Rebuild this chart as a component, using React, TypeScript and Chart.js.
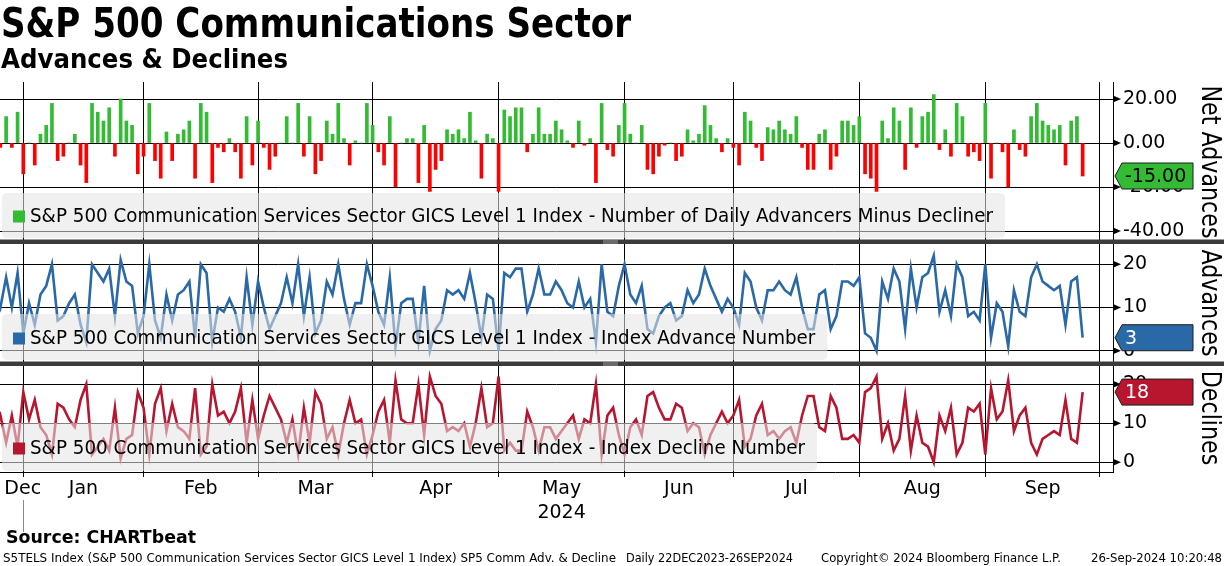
import React, { useEffect, useLayoutEffect, useRef } from 'react';
import { Chart, registerables } from 'chart.js';

Chart.register(...registerables);

const FONT = '"DejaVu Sans", Verdana, sans-serif';

// ---- DATA (trading days 22-Dec-2023 .. 26-Sep-2024, index 0 = 22 Dec) ----
const netAdvances = [
  6, -2, 12, -2, 14, -14, 0, -10, 4, 8,
  18, -8, -6, 0, 4, -10, -18, 18, 14, 10,
  16, -6, 20, 10, 8, -14, -6, 18, -8, -16,
  5, -8, 4, 6, 10, -16, 18, 14, -18, -2,
  -4, 2, -4, -16, 12, -10, 10, -2, -12, -6,
  0, 12, 0, 18, -6, 12, -14, -8, 10, 4,
  18, 2, -10, 1, 0, 18, 8, -4, -10, 12,
  -20, 0, 2, 2, -18, 8, -22, -12, -8, 6,
  4, 6, 2, 14, 1, -16, 4, 2, -22, 15,
  12, 16, 16, -4, 4, 16, 4, 4, 10, 6,
  1, -2, 10, -1, 2, -18, 18, -3, -6, 8,
  18, 4, 0, 8, -12, -14, -6, -1, 0, -8,
  -6, 6, 1, 4, 17, 8, 2, -4, 2, -2,
  -10, 14, 10, -2, -8, 7, 6, 10, 6, 4,
  12, -2, -12, -12, 4, 6, -12, -6, 10, 10,
  8, 12, -14, -16, -22, 10, 2, 16, 10, -12,
  16, -2, 12, 14, 22, -3, 6, -6, 18, 12,
  -6, -4, -8, 18, -16, 0, -4, -20, 6, -3,
  -6, 12, 18, 10, 8, 6, 8, -10, 10, 12,
  -15,
];

const advances = [
  14, 10, 17, 10, 18, 4, 11, 6, 13, 15,
  20, 7, 8, 11, 13, 6, 2, 20, 18, 16,
  19, 8, 21, 16, 15, 4, 8, 20, 7, 3,
  13, 7, 13, 14, 16, 3, 20, 18, 2, 10,
  9, 12, 9, 3, 17, 6, 16, 10, 5, 8,
  11, 17, 11, 20, 8, 17, 4, 7, 16, 13,
  20, 12, 6, 11, 11, 20, 15, 9, 6, 17,
  1, 11, 12, 12, 2, 15, 0, 5, 7, 14,
  13, 14, 12, 18, 11, 3, 13, 12, 0, 18,
  17, 19, 19, 9, 13, 19, 13, 13, 16, 14,
  11, 10, 16, 10, 12, 2, 20, 9, 8, 15,
  20, 13, 11, 15, 5, 4, 8, 10, 11, 7,
  8, 14, 11, 13, 19, 15, 12, 9, 12, 10,
  6, 18, 16, 10, 7, 14, 14, 16, 14, 13,
  17, 10, 5, 5, 13, 14, 5, 8, 16, 16,
  15, 17, 4, 3, 0, 16, 12, 19, 16, 5,
  19, 10, 17, 18, 22, 9, 14, 8, 20, 17,
  8, 9, 7, 20, 3, 11, 9, 1, 14, 9,
  8, 17, 20, 16, 15, 14, 15, 6, 16, 17,
  3,
];

const declines = [
  8, 12, 5, 12, 4, 18, 11, 16, 9, 7,
  2, 15, 14, 11, 9, 16, 20, 2, 4, 6,
  3, 14, 1, 6, 7, 18, 14, 2, 15, 19,
  8, 15, 9, 8, 6, 19, 2, 4, 20, 12,
  13, 10, 13, 19, 5, 16, 6, 12, 17, 14,
  11, 5, 11, 2, 14, 5, 18, 15, 6, 9,
  2, 10, 16, 10, 11, 2, 7, 13, 16, 5,
  21, 11, 10, 10, 20, 7, 22, 17, 15, 8,
  9, 8, 10, 4, 10, 19, 9, 10, 22, 3,
  5, 3, 3, 13, 9, 3, 9, 9, 6, 8,
  10, 12, 6, 11, 10, 20, 2, 12, 14, 7,
  2, 9, 11, 7, 17, 18, 14, 11, 11, 15,
  14, 8, 10, 9, 2, 7, 10, 13, 10, 12,
  16, 4, 6, 12, 15, 7, 8, 6, 8, 9,
  5, 12, 17, 17, 9, 8, 17, 14, 6, 6,
  7, 5, 18, 19, 22, 6, 10, 3, 6, 17,
  3, 12, 5, 4, 0, 12, 8, 14, 2, 5,
  14, 13, 15, 2, 19, 11, 13, 21, 8, 12,
  14, 5, 2, 6, 7, 8, 7, 16, 6, 5,
  18,
];

// first trading day of each month (day index) -> vertical grid lines
const monthStarts = [5, 26, 46, 66, 88, 110, 129, 151, 173, 193];
// month label positions (day index) and labels
const monthLabelPos = [4.9, 15.5, 36, 56, 77, 99, 119.5, 140, 162, 183];
const monthLabels: (string | string[])[] = ['Dec', 'Jan', 'Feb', 'Mar', 'Apr', ['May', '2024'], 'Jun', 'Jul', 'Aug', 'Sep'];

const netTicks = [-40, -30, -20, -10, 0, 10, 20];
const netLabeled = [-40, -20, 0, 20];
const countTicks = [0, 5, 10, 15, 20];
const countLabeled = [0, 10, 20];

const seriesLabels = [
  'S&P 500 Communication Services Sector GICS Level 1 Index - Number of Daily Advancers Minus Decliner',
  'S&P 500 Communication Services Sector GICS Level 1 Index - Index Advance Number',
  'S&P 500 Communication Services Sector GICS Level 1 Index - Index Decline Number',
];
const axisTitles = ['Net Advances', 'Advances', 'Declines'];

const GREEN = '#33bb33';
const RED = '#ff0000';
const BLUE = '#2a69a8';
const CRIMSON = '#b8152f';

const X_MIN = 0.93;
const X_MAX = 195.3;

function roundRect(ctx: CanvasRenderingContext2D, x: number, y: number, w: number, h: number, r: number) {
  ctx.beginPath();
  ctx.moveTo(x + r, y);
  ctx.lineTo(x + w - r, y);
  ctx.quadraticCurveTo(x + w, y, x + w, y + r);
  ctx.lineTo(x + w, y + h - r);
  ctx.quadraticCurveTo(x + w, y + h, x + w - r, y + h);
  ctx.lineTo(x + r, y + h);
  ctx.quadraticCurveTo(x, y + h, x, y + h - r);
  ctx.lineTo(x, y + r);
  ctx.quadraticCurveTo(x, y, x + r, y);
  ctx.closePath();
}

const legendLayout = [
  { top: 193, bottom: 238, mid: 216.5, color: GREEN },
  { top: 314, bottom: 360, mid: 338.5, color: BLUE },
  { top: 423, bottom: 471, mid: 448.5, color: CRIMSON },
];

const overlayPlugin = {
  id: 'bbgOverlay',
  afterDatasetsDraw(chart: any) {
    const ctx: CanvasRenderingContext2D = chart.ctx;
    ctx.save();
    ctx.font = `19px ${FONT}`;
    const scaleX = 963 / ctx.measureText(seriesLabels[0]).width;
    chart.data.datasets.forEach((ds: any, k: number) => {
      const L = legendLayout[k];
      const w = ctx.measureText(ds.label).width * scaleX;
      ctx.fillStyle = 'rgba(228,228,228,0.56)';
      roundRect(ctx, 2, L.top, 30 + w + 12 - 2, L.bottom - L.top, 5);
      ctx.fill();
      ctx.fillStyle = L.color;
      ctx.fillRect(13, L.mid - 6, 12, 12);
      ctx.save();
      ctx.translate(30, L.mid + 1);
      ctx.scale(scaleX, 1);
      ctx.fillStyle = '#000';
      ctx.textBaseline = 'middle';
      ctx.textAlign = 'left';
      ctx.fillText(ds.label, 0, 0);
      ctx.restore();
    });
    ctx.restore();
  },
  afterDraw(chart: any) {
    const ctx: CanvasRenderingContext2D = chart.ctx;
    const R = chart.chartArea.right;
    const W = chart.width;
    ctx.save();
    // arrow heads on labelled ticks
    const axes: [string, number[]][] = [['yNet', netLabeled], ['yAdv', countLabeled], ['yDec', countLabeled]];
    axes.forEach(([id, vals]) => {
      const s = chart.scales[id];
      vals.forEach((v) => {
        const y = s.getPixelForValue(v);
        ctx.beginPath();
        ctx.moveTo(R, y - 3.5);
        ctx.lineTo(R + 8, y);
        ctx.lineTo(R, y + 3.5);
        ctx.closePath();
        ctx.fillStyle = '#000';
        ctx.fill();
      });
    });
    // last-value boxes
    const boxes = [
      { id: 'yNet', v: netAdvances[netAdvances.length - 1], fill: GREEN, txt: (netAdvances[netAdvances.length - 1]).toFixed(2), color: '#000' },
      { id: 'yAdv', v: advances[advances.length - 1], fill: BLUE, txt: String(advances[advances.length - 1]), color: '#fff' },
      { id: 'yDec', v: declines[declines.length - 1], fill: CRIMSON, txt: String(declines[declines.length - 1]), color: '#fff' },
    ];
    boxes.forEach((b) => {
      const y = chart.scales[b.id].getPixelForValue(b.v);
      const tip = R + 2, base = R + 9, right = 1193, h = 26;
      ctx.beginPath();
      ctx.moveTo(tip, y);
      ctx.lineTo(base, y - h / 2);
      ctx.lineTo(right, y - h / 2);
      ctx.lineTo(right, y + h / 2);
      ctx.lineTo(base, y + h / 2);
      ctx.closePath();
      ctx.fillStyle = b.fill;
      ctx.fill();
      ctx.strokeStyle = '#1c1c1c';
      ctx.lineWidth = 1;
      ctx.stroke();
      ctx.fillStyle = b.color;
      ctx.font = `19px ${FONT}`;
      ctx.textBaseline = 'middle';
      ctx.textAlign = 'left';
      ctx.fillText(b.txt, 1125, y + 1);
    });
    // axis titles (rotated)
    ctx.font = `27px ${FONT}`;
    const tScale = 153 / ctx.measureText(axisTitles[0]).width;
    ['yNet', 'yAdv', 'yDec'].forEach((id, k) => {
      const s = chart.scales[id];
      const yc = (s.top + s.bottom) / 2;
      ctx.save();
      ctx.translate(1209, yc);
      ctx.rotate(Math.PI / 2);
      ctx.scale(tScale, 1);
      ctx.fillStyle = '#000';
      ctx.textAlign = 'center';
      ctx.textBaseline = 'middle';
      ctx.fillText(axisTitles[k], 0, 0);
      ctx.restore();
    });
    // panel separators
    ['yNet', 'yAdv'].forEach((id) => {
      const yb = chart.scales[id].bottom;
      ctx.fillStyle = '#3b3b3b';
      ctx.fillRect(0, yb - 2.5, W, 4.5);
      ctx.fillStyle = '#9a9a9a';
      ctx.fillRect(603, yb - 1.5, 15, 1);
      ctx.fillRect(603, yb + 0.5, 15, 1);
    });
    // year marker under "Dec"
    const xs = chart.scales.x;
    const xd = Math.round(xs.getPixelForValue(monthStarts[0])) + 0.5;
    ctx.strokeStyle = '#8a8a8a';
    ctx.lineWidth = 1;
    ctx.beginPath();
    ctx.moveTo(xd, 500);
    ctx.lineTo(xd, 532);
    ctx.stroke();
    ctx.restore();
  },
};

function yAxis(min: number, max: number, ticks: number[], labeled: number[], weight: number, fmt: (v: number) => string) {
  return {
    type: 'linear',
    position: 'right',
    stack: 'panels',
    stackWeight: weight,
    min,
    max,
    afterBuildTicks: (s: any) => { s.ticks = ticks.map((v) => ({ value: v })); },
    afterFit: (s: any) => { s.width = 111; },
    grid: {
      color: (c: any) => (c.tick && labeled.includes(c.tick.value) ? '#000' : 'rgba(0,0,0,0)'),
      tickColor: '#000',
      tickLength: 6,
      lineWidth: 1,
    },
    border: { display: true, color: '#000', width: 1 },
    ticks: {
      padding: 4,
      color: '#000',
      font: { family: FONT, size: 19 },
      callback: (v: number) => (labeled.includes(v) ? fmt(v) : ''),
    },
  };
}

function FitText({ text, left, baseline, width, size, bold = false }: { text: string; left: number; baseline: number; width: number; size: number; bold?: boolean }) {
  const ref = useRef<HTMLSpanElement>(null);
  useLayoutEffect(() => {
    const el = ref.current;
    if (!el) return;
    const fit = () => {
      el.style.transform = 'none';
      const w = el.getBoundingClientRect().width;
      if (w > 0) el.style.transform = `scaleX(${width / w})`;
    };
    fit();
    if ((document as any).fonts) (document as any).fonts.ready.then(fit);
  }, [text, width]);
  return (
    <span
      ref={ref}
      style={{
        position: 'absolute',
        left,
        top: baseline - 0.846 * size,
        fontFamily: FONT,
        fontSize: size,
        fontWeight: bold ? 700 : 400,
        lineHeight: 1,
        whiteSpace: 'nowrap',
        transformOrigin: '0 0',
        color: '#000',
      }}
    >
      {text}
    </span>
  );
}

export default function App() {
  const canvasRef = useRef<HTMLCanvasElement>(null);

  useEffect(() => {
    const canvas = canvasRef.current;
    if (!canvas) return;
    const xTickValues = [...monthStarts, ...monthLabelPos];
    const chart = new Chart(canvas, {
      type: 'bar',
      data: {
        datasets: [
          {
            type: 'bar',
            label: seriesLabels[0],
            data: netAdvances.map((v, i) => ({ x: i, y: v })),
            yAxisID: 'yNet',
            xAxisID: 'x',
            backgroundColor: (c: any) => ((c.raw && c.raw.y < 0) ? RED : GREEN),
            borderWidth: 0,
            barThickness: 3,
          },
          {
            type: 'line',
            label: seriesLabels[1],
            data: advances.map((v, i) => ({ x: i, y: v })),
            yAxisID: 'yAdv',
            xAxisID: 'x',
            borderColor: BLUE,
            backgroundColor: BLUE,
            borderWidth: 2.6,
            pointRadius: 0,
            tension: 0,
            fill: false,
          },
          {
            type: 'line',
            label: seriesLabels[2],
            data: declines.map((v, i) => ({ x: i, y: v })),
            yAxisID: 'yDec',
            xAxisID: 'x',
            borderColor: CRIMSON,
            backgroundColor: CRIMSON,
            borderWidth: 2.6,
            pointRadius: 0,
            tension: 0,
            fill: false,
          },
        ] as any,
      },
      options: {
        animation: false,
        responsive: false,
        maintainAspectRatio: false,
        layout: { padding: { top: 82, left: 0, right: 0, bottom: 0 } },
        plugins: { legend: { display: false }, tooltip: { enabled: false }, title: { display: false } },
        scales: {
          x: {
            type: 'linear',
            position: 'bottom',
            offset: false,
            min: X_MIN,
            max: X_MAX,
            afterBuildTicks: (s: any) => { s.ticks = xTickValues.map((v) => ({ value: v })); },
            afterFit: (s: any) => { s.height = 94; },
            grid: {
              offset: false,
              color: (c: any) => (c.tick && monthStarts.includes(c.tick.value) ? '#000' : 'rgba(0,0,0,0)'),
              lineWidth: 1,
              tickLength: 5,
            },
            border: { display: true, color: '#000', width: 1 },
            ticks: {
              autoSkip: false,
              maxRotation: 0,
              minRotation: 0,
              padding: 0,
              color: '#000',
              font: { family: FONT, size: 19, lineHeight: 1.25 },
              callback: (v: number) => {
                const k = monthLabelPos.indexOf(v);
                return k >= 0 ? monthLabels[k] : '';
              },
            },
          },
          yNet: yAxis(-45, 27.73, netTicks, netLabeled, 160, (v) => v.toFixed(2)),
          yAdv: yAxis(-3.08, 25.16, countTicks, countLabeled, 122, (v) => String(v)),
          yDec: yAxis(-2.49, 25.2, countTicks, countLabeled, 108, (v) => String(v)),
        } as any,
      },
      plugins: [overlayPlugin],
    } as any);
    return () => chart.destroy();
  }, []);

  return (
    <div style={{ position: 'absolute', left: 0, top: 0, width: 1224, height: 566, overflow: 'hidden', background: '#fff' }}>
      <canvas ref={canvasRef} width={1224} height={566} style={{ position: 'absolute', left: 0, top: 0, width: 1224, height: 566 }} />
      <FitText text="S&P 500 Communications Sector" left={1} baseline={37} width={630} size={40} bold />
      <FitText text="Advances & Declines" left={1} baseline={68} width={287} size={26} bold />
      <FitText text="Source: CHARTbeat" left={6} baseline={543} width={190} size={17} bold />
      <FitText text="S5TELS Index (S&P 500 Communication Services Sector GICS Level 1 Index) SP5 Comm Adv. & Decline" left={3} baseline={562} width={613} size={12} />
      <FitText text="Daily 22DEC2023-26SEP2024" left={626} baseline={562} width={167} size={12} />
      <FitText text="Copyright© 2024 Bloomberg Finance L.P." left={821} baseline={562} width={240} size={12} />
      <FitText text="26-Sep-2024 10:20:48" left={1091} baseline={562} width={131} size={12} />
    </div>
  );
}
